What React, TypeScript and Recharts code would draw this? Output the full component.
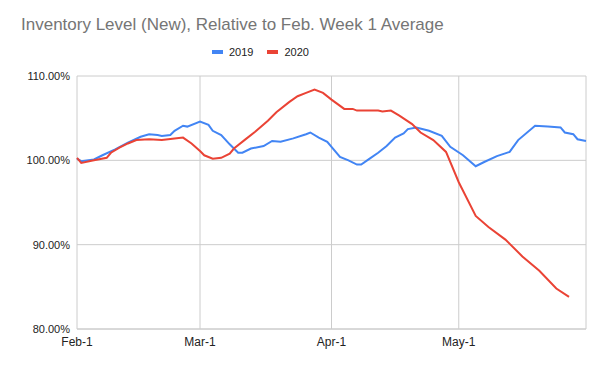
import React from "react";
import { LineChart, Line, XAxis, YAxis, CartesianGrid } from "recharts";

// day offsets from Feb-1
const days2019 = [0, 1, 4, 6, 9, 12, 15, 17, 19, 20, 22, 23, 25, 26, 29, 31, 32, 34, 36, 38, 39, 41, 44, 46, 48, 51, 54, 55, 57, 59, 60, 62, 64, 66, 67, 69, 71, 73, 75, 77, 78, 80, 83, 86, 88, 91, 94, 96, 99, 102, 104, 108, 111, 114, 115, 117, 118, 120];
const values2019 = [100.2, 99.9, 100.1, 100.6, 101.3, 102.1, 102.8, 103.1, 103.0, 102.9, 103.0, 103.5, 104.1, 104.0, 104.6, 104.2, 103.5, 103.0, 101.9, 100.9, 100.9, 101.4, 101.7, 102.3, 102.2, 102.6, 103.1, 103.3, 102.7, 102.2, 101.6, 100.4, 100.0, 99.5, 99.5, 100.2, 100.9, 101.7, 102.7, 103.2, 103.7, 103.9, 103.5, 102.9, 101.6, 100.6, 99.3, 99.8, 100.5, 101.0, 102.4, 104.1, 104.0, 103.9, 103.3, 103.1, 102.5, 102.3];

const days2020 = [0, 1, 4, 7, 8, 10, 12, 14, 17, 20, 23, 25, 27, 29, 30, 32, 34, 36, 37, 40, 42, 45, 47, 50, 52, 54, 56, 58, 60, 63, 65, 66, 71, 72, 74, 76, 79, 81, 84, 87, 90, 94, 97, 101, 105, 109, 113, 116];
const values2020 = [100.3, 99.7, 100.0, 100.3, 100.9, 101.5, 102.0, 102.4, 102.5, 102.4, 102.6, 102.7, 102.0, 101.1, 100.6, 100.2, 100.3, 100.8, 101.4, 102.6, 103.4, 104.7, 105.7, 106.9, 107.6, 108.0, 108.4, 108.0, 107.2, 106.1, 106.1, 105.9, 105.9, 105.8, 105.9, 105.3, 104.3, 103.3, 102.4, 101.0, 97.4, 93.4, 92.1, 90.6, 88.6, 86.9, 84.8, 83.8];

const tickDays = [0, 29, 60, 90];
const tickLabels = ["Feb-1", "Mar-1", "Apr-1", "May-1"];
const yTicks = [80, 90, 100, 110];

const series = [
  { name: "2019", color: "#4285f4" },
  { name: "2020", color: "#ea4335" },
];

const data2019 = days2019.map((d, i) => ({ day: d, value: values2019[i] }));
const data2020 = days2020.map((d, i) => ({ day: d, value: values2020[i] }));

const FONT = "'Liberation Sans', Arial, sans-serif";

function LegendRow() {
  return (
    <div style={{ position: "absolute", left: 212, top: 46, display: "flex", alignItems: "center", fontFamily: FONT, fontSize: 11, lineHeight: "12px", color: "#222" }}>
      {series.map((s) => (
        <div key={s.name} style={{ display: "flex", alignItems: "center", marginRight: 14 }}>
          <span style={{ display: "inline-block", width: 11, height: 4, background: s.color, marginRight: 6 }} />
          <span>{s.name}</span>
        </div>
      ))}
    </div>
  );
}

export default function App() {
  return (
    <div style={{ position: "absolute", left: 0, top: 0, width: 616, height: 379, background: "#fff" }}>
      <LineChart width={616} height={379} margin={{ top: 76, right: 30, bottom: 20, left: 0 }}>
        <CartesianGrid stroke="#cccccc" />
        <XAxis
          dataKey="day"
          type="number"
          domain={[0, 120]}
          ticks={tickDays}
          tickFormatter={(v) => tickLabels[tickDays.indexOf(v)] ?? ""}
          allowDuplicatedCategory={false}
          tick={{ fontSize: 12, fill: "#222", fontFamily: FONT }}
          tickLine={false}
          tickSize={0}
          tickMargin={8}
          axisLine={{ stroke: "#cccccc" }}
          height={30}
          interval={0}
        />
        <YAxis
          dataKey="value"
          type="number"
          domain={[80, 110]}
          ticks={yTicks}
          tickFormatter={(v) => `${v.toFixed(2)}%`}
          tick={{ fontSize: 11, fill: "#222", fontFamily: FONT }}
          tickLine={false}
          tickSize={0}
          tickMargin={7}
          axisLine={false}
          width={77}
          interval={0}
        />
        <Line data={data2019} dataKey="value" name="2019" type="linear" stroke={series[0].color} strokeWidth={2} dot={false} isAnimationActive={false} />
        <Line data={data2020} dataKey="value" name="2020" type="linear" stroke={series[1].color} strokeWidth={2} dot={false} isAnimationActive={false} />
      </LineChart>
      <div style={{ position: "absolute", left: 21, top: 16, fontFamily: FONT, fontSize: 17, lineHeight: "17px", color: "#757575", whiteSpace: "nowrap" }}>
        Inventory Level (New), Relative to Feb. Week 1 Average
      </div>
      <LegendRow />
    </div>
  );
}
